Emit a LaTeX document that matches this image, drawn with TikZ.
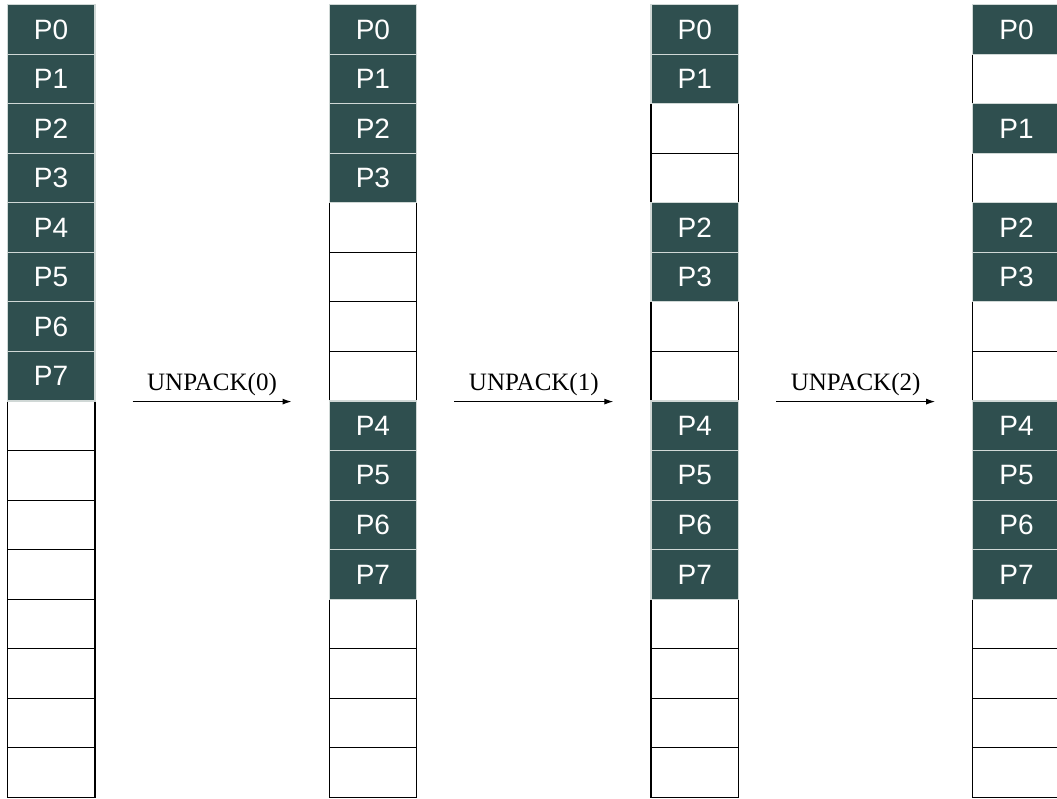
\documentclass[tikz,border=0pt]{standalone}
\usepackage{fontspec}
\setmainfont{Liberation Serif}
\newfontfamily\cellfont{Liberation Sans}
\usetikzlibrary{arrows.meta,positioning,calc}
\definecolor{slot}{HTML}{2F4F4F}
\definecolor{slotline}{HTML}{D0D8D6}
\tikzset{
  emptycell/.style={draw=black, line width=1.2pt, fill=white, minimum width=87.6pt,
    minimum height=49.55pt, inner sep=0pt, anchor=north west},
  fullcell/.style={draw=slotline, line width=1.2pt, fill=slot, text=white,
    font=\cellfont\fontsize{28}{33}\selectfont, minimum width=87.6pt,
    minimum height=49.55pt, inner sep=0pt, anchor=north west},
  steparrow/.style={-{Latex[length=9pt,width=6pt]}, line width=1pt},
  steplabel/.style={font=\fontsize{25}{29}\selectfont, above, inner sep=5pt}
}
\begin{document}
\begin{tikzpicture}[x=1pt,y=-1pt]
  \def\colgap{321.8}
  \def\rowh{49.55}
  \useasboundingbox (0,0) rectangle (1057,799);
  \clip (0,0) rectangle (1057,799);
  % free slots
  \foreach \c in {1,...,4}
    \foreach \r in {0,...,15}
      \node[emptycell] (c\c-\r) at ({6.7+(\c-1)*\colgap},{4+\r*\rowh}) {};
  % packed entries
  \foreach \c/\rows in {1/{0,1,2,3,4,5,6,7}, 2/{0,1,2,3,8,9,10,11},
                        3/{0,1,4,5,8,9,10,11}, 4/{0,2,4,5,8,9,10,11}}
    \foreach \r [count=\p from 0] in \rows
      \node[fullcell] (p\c-\p) at (c\c-\r.north west) {P\p};
  % steps
  \foreach \c/\n [count=\k from 0] in {1/2, 2/3, 3/4}
    \draw[steparrow] ([xshift=37pt]c\c-7.south east)
      -- node[steplabel] {UNPACK(\k)} ([xshift=-37pt]c\n-7.south west);
\end{tikzpicture}
\end{document}
